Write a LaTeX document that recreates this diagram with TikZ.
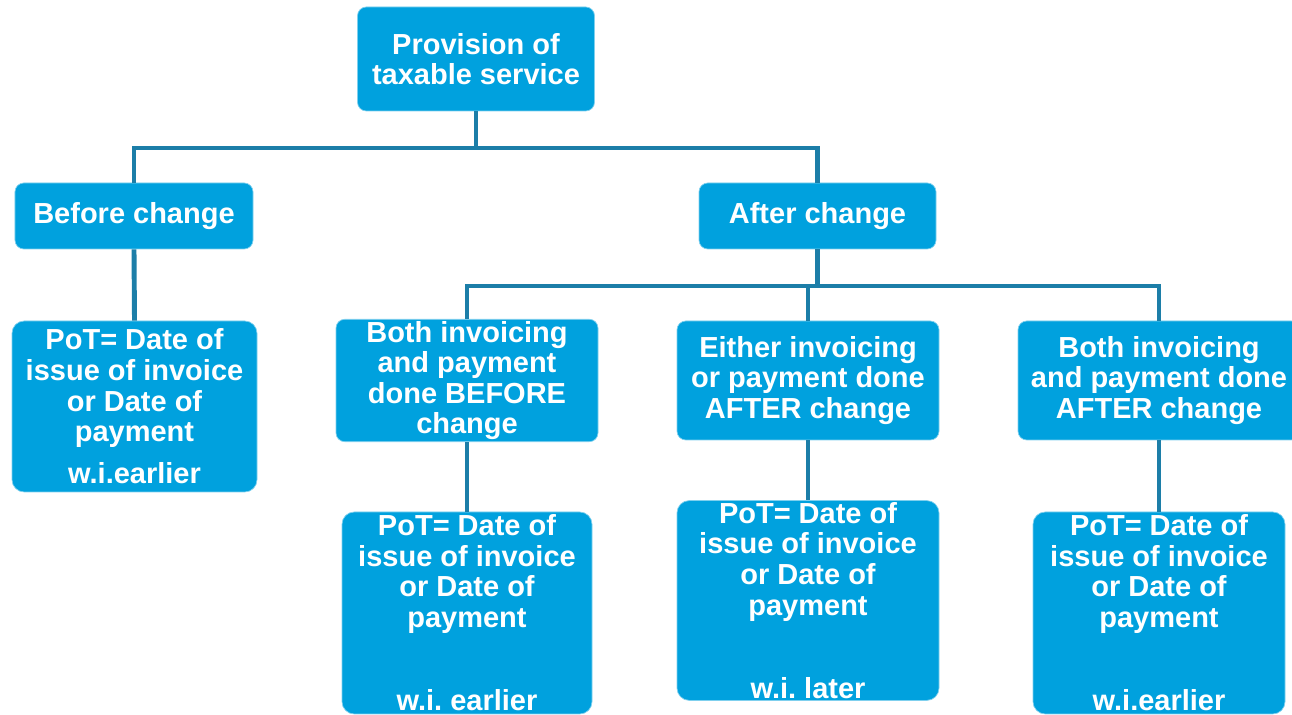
\documentclass[tikz,border=0pt]{standalone}
\usepackage{fontspec}
\setmainfont{Liberation Sans}
\usepackage{xcolor}
\definecolor{boxblue}{HTML}{00A1DE}
\definecolor{boxrim}{HTML}{7FD0EE}
\definecolor{linkblue}{HTML}{1C7EA8}
\usepackage{tikz}
\frenchspacing
\tikzset{
  chartbox/.style={rectangle,rounded corners=5pt,fill=boxblue,draw=boxrim,line width=0.4pt,
    text=white,align=center,inner sep=1pt,
    font=\fontsize{16.5}{17.4}\selectfont\bfseries},
  potbox/.style={chartbox,rounded corners=7pt},
  link/.style={linkblue,line width=2.8pt}
}
\begin{document}
\begin{tikzpicture}
    \useasboundingbox (0,0) rectangle (25.84,14.3);
    % Top level
    \node[chartbox,minimum width=4.74cm,minimum height=2.08cm] (prov) at (9.52,13.12)
      {Provision of\\taxable service};
    \node[chartbox,minimum width=4.76cm,minimum height=1.32cm] (before) at (2.68,9.98) {Before change};
    \node[chartbox,minimum width=4.74cm,minimum height=1.32cm] (after) at (16.35,9.98) {After change};
    % Second level
    \node[potbox,minimum width=4.9cm,minimum height=3.42cm] (potA) at (2.69,6.17)
      {PoT= Date of\\issue of invoice\\or Date of\\payment\\[6.5pt]w.i.earlier};
    \node[chartbox,minimum width=5.24cm,minimum height=2.38cm] (bothbef) at (9.34,6.69)
      {Both invoicing\\and payment\\done BEFORE\\change};
    \node[chartbox,minimum width=5.24cm,minimum height=2.38cm] (either) at (16.16,6.69)
      {Either invoicing\\or payment done\\AFTER change};
    \node[chartbox,minimum width=5.64cm,minimum height=2.38cm] (bothaft) at (23.18,6.69)
      {Both invoicing\\and payment done\\AFTER change};
    % Bottom level
    \node[potbox,minimum width=5.0cm,minimum height=4.04cm] (potB) at (9.34,2.04)
      {PoT= Date of\\issue of invoice\\or Date of\\payment\\[30pt]w.i. earlier};
    \node[potbox,minimum width=5.24cm,minimum height=3.98cm] (potC) at (16.16,2.29)
      {PoT= Date of\\issue of invoice\\or Date of\\payment\\[30pt]w.i. later};
    \node[potbox,minimum width=5.04cm,minimum height=4.04cm] (potD) at (23.18,2.04)
      {PoT= Date of\\issue of invoice\\or Date of\\payment\\[30pt]w.i.earlier};
    % Connectors
    \coordinate (busA) at (9.52,11.34);
    \coordinate (busB) at (16.35,8.58);
    \draw[link] (prov.south) -- (busA);
    \draw[link] (busA) -| (before.north);
    \draw[link] (busA) -| (after.north);
    \draw[link] (before.south) -- (potA.north);
    \draw[link] (after.south) -- (busB);
    \draw[link] (busB) -| (bothbef.north);
    \draw[link] (busB) -| (either.north);
    \draw[link] (busB) -| (bothaft.north);
    \draw[link] (bothbef.south) -- (potB.north);
    \draw[link] (either.south) -- (potC.north);
    \draw[link] (bothaft.south) -- (potD.north);
\end{tikzpicture}
\end{document}
